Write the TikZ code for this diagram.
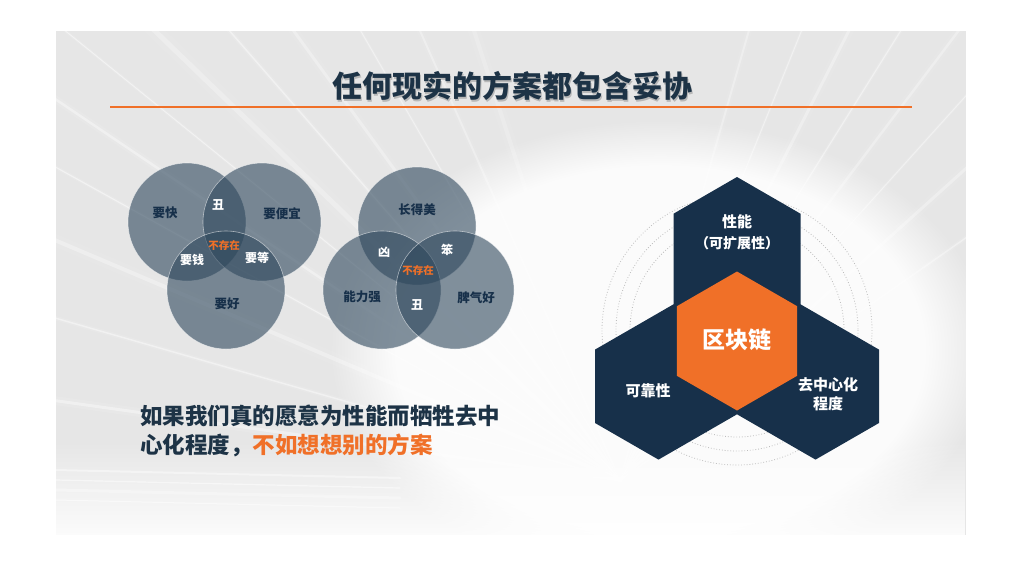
\documentclass[tikz,border=0pt]{standalone}
\usepackage{fontspec}
\newfontfamily\cjk{Noto Sans CJK SC}
\usetikzlibrary{fadings}
\definecolor{navy}{HTML}{17304A}
\definecolor{titlec}{HTML}{1D3346}
\definecolor{org}{HTML}{F07028}
\definecolor{vfill}{HTML}{2E475C}
\definecolor{panel}{HTML}{E6E6E6}
\definecolor{dotc}{HTML}{BDBDBD}
\tikzfading[name=fadeup, top color=transparent!100, bottom color=transparent!0]
\tikzset{
  vc/.style={circle, inner sep=0pt, minimum size=118pt, fill=vfill, fill opacity=0.6,
             draw=white, draw opacity=0.55, line width=0.6pt},
  vdark/.style={font=\cjk\bfseries\fontsize{12.5}{13}\selectfont, text=navy, inner sep=0pt},
  vwhite/.style={font=\cjk\bfseries\fontsize{12}{12}\selectfont, text=white, inner sep=0pt},
  vnone/.style={font=\cjk\bfseries\fontsize{10.5}{11}\selectfont, text=org, inner sep=0pt},
  hexlab/.style={font=\cjk\bfseries\fontsize{15}{18}\selectfont, text=white, inner sep=0pt, align=center},
  ring/.style={draw=dotc, dotted, line width=0.8pt},
  streak/.style={white, line cap=round}
}
\begin{document}
\begin{tikzpicture}[x=1pt,y=-1pt]
\useasboundingbox (0,0) rectangle (1024,576);
\fill[white] (0,0) rectangle (1024,576);
% background panel
\begin{scope}
  \clip (56,31) rectangle (966,550);
  \fill[panel] (56,31) rectangle (966,550);
  \fill[white, opacity=0.85, path fading=circle with fuzzy edge 20 percent] (660,350) ellipse (330 and 230);
  \foreach \a/\w/\o in {188/3/0.35,196/1.5/0.4,203/4/0.3,209/1.2/0.45,214/2.5/0.35,219/1/0.45,224/5/0.25,229/1.5/0.4,234/3/0.3,240/1/0.4,246/2/0.3,252/4/0.2,
                        286/2/0.3,292/1/0.4,297/3/0.3,302/1.2/0.4,307/2.5/0.3,312/1/0.4,318/3/0.3,325/1.5/0.35}{
    \draw[streak, line width=3*\w pt, opacity=0.25*\o] (620,480) -- ++(\a:1000);
    \draw[streak, line width=\w pt, opacity=\o] (620,480) -- ++(\a:1000);
  }
  \foreach \yy/\w/\o in {470/2/0.4,480/1.2/0.5,490/3/0.3,500/1/0.5}
    \draw[streak, line width=\w pt, opacity=\o] (56,\yy) -- (400,\yy+8);
  \fill[white, path fading=fadeup] (56,440) rectangle (966,550);
  \fill[white] (56,535) rectangle (966,550);
\end{scope}
% title
\node[font=\cjk\bfseries\fontsize{30}{30}\selectfont, text=gray, opacity=0.45, inner sep=0pt] (titleshadow) at (513.5,87.5) {任何现实的方案都包含妥协};
\node[font=\cjk\bfseries\fontsize{30}{30}\selectfont, text=titlec, inner sep=0pt] (title) at (512,86) {任何现实的方案都包含妥协};
\coordinate (ruleL) at (110,107);
\coordinate (ruleR) at (912,107);
\draw[org, line width=1.3pt] (ruleL) -- (ruleR);
% Venn 1
\node[vc] (kuai) at (187,222) {};
\node[vc] (pianyi) at (262,222) {};
\node[vc] (hao) at (226,290) {};
\node[vdark] (tkuai) at (165,213) {要快};
\node[vdark] (tpianyi) at (282,214) {要便宜};
\node[vdark] (thao) at (227,304) {要好};
\node[vwhite] (tchou1) at (218,205) {丑};
\node[vwhite] (tqian) at (192,260) {要钱};
\node[vwhite] (tdeng) at (257,258) {要等};
\node[vnone] (tnone1) at (224,246) {不存在};
% Venn 2
\node[vc] (mei) at (417,226) {};
\node[vc] (neng) at (382,290) {};
\node[vc] (piqi) at (455,290) {};
\node[vdark] (tmei) at (417,210) {长得美};
\node[vdark] (tneng) at (362,297) {能力强};
\node[vdark] (tpiqi) at (476,298) {脾气好};
\node[vwhite] (txiong) at (384,252) {凶};
\node[vwhite] (tben) at (447,250) {笨};
\node[vwhite] (tchou2) at (417,305) {丑};
\node[vnone] (tnone2) at (418,271) {不存在};
% bottom text
\node[anchor=west, font=\cjk\bfseries\fontsize{22.5}{24}\selectfont, text=titlec, inner sep=0pt] (line1) at (140,416) {如果我们真的愿意为性能而牺牲去中};
\node[anchor=west, font=\cjk\bfseries\fontsize{22.5}{24}\selectfont, text=titlec, inner sep=0pt] (line2) at (140,445) {心化程度，\textcolor{org}{不如想想别的方案}};
% rings
\coordinate (rc) at (737,330);
\foreach \r in {107,121,135} \draw[ring] (rc) circle (\r);
% dark tri-lobe
\fill[navy] (737,177) -- (800.5,213.7) -- (800.5,304.3) -- (879,349.6) -- (879,423) -- (815.5,459.6)
  -- (737,414.3) -- (658.5,459.6) -- (595,423) -- (595,349.6) -- (673.5,304.3) -- (673.5,213.7) -- cycle;
% orange hexagon
\fill[org] (737,271.5) -- (797.2,306.25) -- (797.2,375.75) -- (737,410.5) -- (676.8,375.75) -- (676.8,306.25) -- cycle;
\node[font=\cjk\bfseries\fontsize{23}{23}\selectfont, text=white, inner sep=0pt] (chain) at (737,340) {区块链};
\node[hexlab] (perf1) at (737,222) {性能};
\node[hexlab, font=\cjk\bfseries\fontsize{14}{14}\selectfont] (perf2) at (737,243) {（可扩展性）};
\node[hexlab] (rel) at (648,391) {可靠性};
\node[hexlab] (dec1) at (828,385) {去中心化};
\node[hexlab] (dec2) at (828,404) {程度};
\end{tikzpicture}
\end{document}
